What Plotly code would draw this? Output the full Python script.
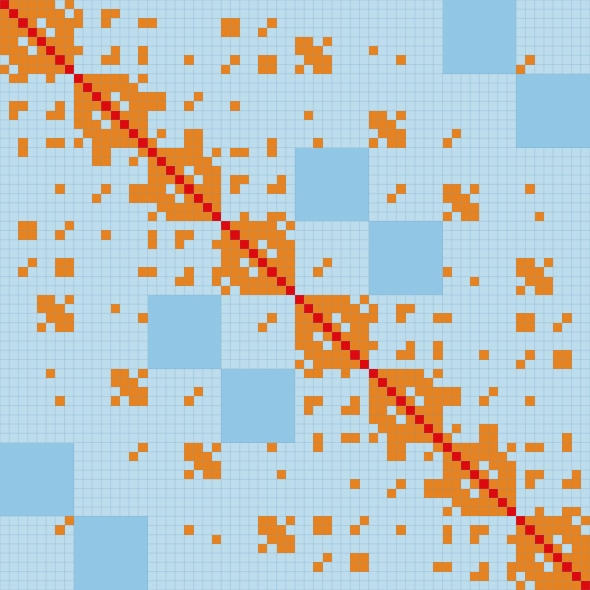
import numpy as np
import plotly.graph_objects as go

# ---- data -------------------------------------------------------------
GROUP_SIZE = 8
N_GROUPS = 8
# pairs of positions (local indices) that are NOT linked inside each group
WITHIN_GROUP_GAPS = [(0, 6), (1, 7), (2, 4), (3, 5)]
# pairs of groups shown as a shaded (excluded) block
SHADED_GROUP_PAIRS = [(0, 6), (1, 7), (2, 4), (3, 5)]
# links between nodes of different groups (upper triangle, node -> nodes)
CROSS_LINKS = {
    1: [8, 11, 12],
    2: [8, 11, 15, 16, 24, 25, 29],
    3: [24, 25, 28],
    4: [32, 33, 35],
    5: [8, 12, 15, 32, 33, 34, 40],
    6: [11, 12, 15, 20, 25, 28, 29, 33, 34, 35, 43, 57],
    7: [24, 28, 29, 32, 34, 35, 56],
    10: [16, 17, 21],
    11: [16, 17, 20, 25],
    12: [33, 40, 41, 43],
    13: [40, 41, 42],
    14: [17, 20, 21, 41, 42, 43, 49],
    15: [16, 20, 21, 29, 34, 40, 42, 43, 48],
    16: [25, 26, 29],
    19: [25, 26, 30],
    20: [25, 29, 30, 43, 48, 49, 51, 57],
    21: [42, 48, 49, 50],
    22: [49, 50, 51],
    23: [26, 29, 30, 48, 50, 51, 58],
    28: [35, 56, 57, 59],
    29: [34, 48, 56, 57, 58],
    30: [51, 57, 58, 59],
    31: [56, 58, 59],
    33: [40, 43, 44],
    34: [40, 43, 47, 48, 56, 57, 61],
    35: [56, 57, 60],
    37: [40, 44, 47],
    38: [43, 44, 47, 52, 57, 60, 61],
    39: [56, 60, 61],
    42: [48, 49, 53],
    43: [48, 49, 52, 57],
    46: [49, 52, 53],
    47: [48, 52, 53, 61],
    48: [57, 58, 61],
    51: [57, 58, 62],
    52: [57, 61, 62],
    55: [58, 61, 62],
}

# ---- build matrix -----------------------------------------------------
N = GROUP_SIZE * N_GROUPS
EMPTY, SHADED, LINK, SELF = 0, 1, 2, 3
z = np.zeros((N, N), dtype=int)
gaps = set(WITHIN_GROUP_GAPS)
for g in range(N_GROUPS):
    for a in range(GROUP_SIZE):
        for b in range(GROUP_SIZE):
            if a != b and (min(a, b), max(a, b)) not in gaps:
                z[g * GROUP_SIZE + a, g * GROUP_SIZE + b] = LINK
for ga, gb in SHADED_GROUP_PAIRS:
    z[ga * GROUP_SIZE:(ga + 1) * GROUP_SIZE, gb * GROUP_SIZE:(gb + 1) * GROUP_SIZE] = SHADED
    z[gb * GROUP_SIZE:(gb + 1) * GROUP_SIZE, ga * GROUP_SIZE:(ga + 1) * GROUP_SIZE] = SHADED
for r, cols in CROSS_LINKS.items():
    for c in cols:
        z[r, c] = LINK
        z[c, r] = LINK
for i in range(N):
    z[i, i] = SELF

C_EMPTY = "#bddcec"
C_SHADED = "#91c6e4"
C_LINK = "#e6821f"
C_SELF = "#dc0a0f"
colorscale = [
    [0.0, C_EMPTY], [0.25, C_EMPTY],
    [0.25, C_SHADED], [0.5, C_SHADED],
    [0.5, C_LINK], [0.75, C_LINK],
    [0.75, C_SELF], [1.0, C_SELF],
]

fig = go.Figure()
fig.add_trace(go.Heatmap(
    z=z, x=list(range(N)), y=list(range(N)),
    colorscale=colorscale, zmin=0, zmax=3, showscale=False,
    hoverinfo="skip",
))

# ---- cell grid (not drawn inside shaded blocks) ------------------------
dark = z == SHADED


def outside_or_dark(i, j):
    return not (0 <= i < N and 0 <= j < N) or dark[i, j]


gx, gy = [], []
for j in range(N + 1):  # vertical boundaries
    run = None
    for i in range(N + 1):
        draw = i < N and not (outside_or_dark(i, j - 1) and outside_or_dark(i, j))
        if draw and run is None:
            run = i
        if not draw and run is not None:
            gx += [j - 0.5, j - 0.5, None]
            gy += [run - 0.5, i - 0.5, None]
            run = None
for i in range(N + 1):  # horizontal boundaries
    run = None
    for j in range(N + 1):
        draw = j < N and not (outside_or_dark(i - 1, j) and outside_or_dark(i, j))
        if draw and run is None:
            run = j
        if not draw and run is not None:
            gx += [run - 0.5, j - 0.5, None]
            gy += [i - 0.5, i - 0.5, None]
            run = None

fig.add_trace(go.Scatter(
    x=gx, y=gy, mode="lines",
    line=dict(color="rgba(110,160,190,0.22)", width=1),
    hoverinfo="skip", showlegend=False,
))

fig.update_layout(
    width=590, height=590,
    margin=dict(l=0, r=0, t=0, b=0),
    paper_bgcolor=C_EMPTY, plot_bgcolor=C_EMPTY,
    showlegend=False,
    xaxis=dict(range=[-0.5, N - 0.5], visible=False, fixedrange=True),
    yaxis=dict(range=[N - 0.5, -0.5], visible=False, fixedrange=True),
)

fig.write_html("out.html")
